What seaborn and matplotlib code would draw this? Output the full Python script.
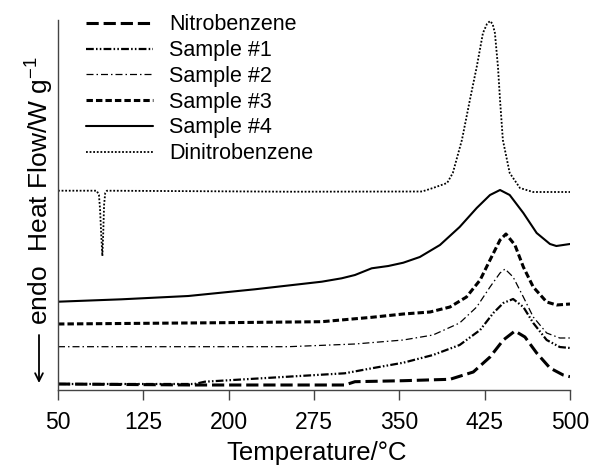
import matplotlib
matplotlib.use("Agg")
import matplotlib.pyplot as plt
import seaborn as sns
import pandas as pd

# ---- data (heat flow in arbitrary offset units) ----
nitro_T = [50, 170, 302, 311, 353.5, 394.5, 415, 429.7, 441.4, 451.6, 460.4, 470.7, 482.4, 494, 500]
nitro_H = [0.6, 0.5, 0.5, 0.83, 0.93, 1.07, 1.8, 3.3, 5.0, 5.9, 5.3, 3.7, 2.2, 1.5, 1.33]

s1_T = [50, 170, 179, 252, 302, 325.7, 353.5, 379.6, 403, 421, 432.6, 441.4, 450, 459, 467.7, 479.5, 491, 500]
s1_H = [0.6, 0.6, 0.83, 1.33, 1.67, 2.17, 2.73, 3.5, 4.5, 6.0, 7.7, 8.7, 9.1, 8.3, 6.7, 5.0, 4.3, 4.2]

s2_T = [50, 252.4, 311, 353.5, 379.6, 403, 418, 429.7, 438.5, 442.9, 450, 459, 467.7, 479.5, 491, 500]
s2_H = [4.33, 4.33, 4.6, 5.0, 5.5, 6.7, 8.3, 10.3, 11.7, 12.1, 11.3, 9.3, 7.3, 5.7, 5.2, 5.2]

s3_T = [50, 194, 281.8, 325.7, 353.5, 377, 394.5, 409, 421, 429.7, 438.5, 443.7, 451.6, 459, 467.7, 479.5, 488.3, 500]
s3_H = [6.6, 6.73, 6.83, 7.27, 7.6, 7.8, 8.3, 9.3, 11.0, 13.0, 15.0, 15.6, 14.5, 12.3, 10.3, 8.8, 8.5, 8.6]

s4_T = [50, 106, 164.5, 223, 281.8, 299.3, 311, 325.7, 340.3, 353.5, 368, 385.7, 403, 418, 429.7, 438.5, 447, 459,
        470.7, 482.4, 488, 500]
s4_H = [8.83, 9.07, 9.4, 10.07, 10.83, 11.17, 11.5, 12.17, 12.4, 12.73, 13.3, 14.5, 16.3, 18.2, 19.5, 20.0, 19.5, 17.7,
        15.7, 14.6, 14.4, 14.6]

dnb_T = [50, 84, 86, 87, 88, 89, 89.7, 90.5, 91.5, 93, 254, 370, 379.6, 392, 397, 405, 412, 418, 423.5, 427, 429.7, 432,
         434, 436.7, 438.5, 441, 447, 456, 467.5, 500]
dnb_H = [19.93, 19.93, 19.5, 18.0, 15.5, 13.4, 15.5, 18.5, 19.7, 19.93, 19.83, 19.85, 20.2, 20.7, 21.7, 25.0, 29.0, 32.3, 35.7, 36.6, 36.9, 36.6,
         35.7, 32.3, 29.0, 25.0, 21.7, 20.2, 19.8, 19.8]

labels = ["Nitrobenzene", "Sample #1", "Sample #2", "Sample #3", "Sample #4", "Dinitrobenzene"]
x_ticks = [50, 125, 200, 275, 350, 425, 500]

series = [
    (nitro_T, nitro_H, dict(lw=2.2, linestyle=(0, (4.0, 1.6)))),
    (s1_T, s1_H, dict(lw=1.6, linestyle=(0, (3.5, 1.0, 0.7, 1.0, 0.7, 1.0)))),
    (s2_T, s2_H, dict(lw=0.9, linestyle=(0, (5.6, 2.4, 1.2, 2.4)))),
    (s3_T, s3_H, dict(lw=2.2, linestyle=(0, (2.1, 1.0)))),
    (s4_T, s4_H, dict(lw=1.5, linestyle="-")),
    (dnb_T, dnb_H, dict(lw=1.3, linestyle=(0, (1.0, 1.0)))),
]

sns.set_theme(style="white")
plt.rcParams["font.family"] = ["Liberation Sans", "DejaVu Sans"]
plt.rcParams["mathtext.fontset"] = "custom"
plt.rcParams["mathtext.rm"] = "Liberation Sans"
plt.rcParams["mathtext.it"] = "Liberation Sans:italic"
plt.rcParams["mathtext.bf"] = "Liberation Sans:bold"
plt.rcParams["text.color"] = "black"
plt.rcParams["axes.labelcolor"] = "black"
plt.rcParams["xtick.color"] = "black"
plt.rcParams["ytick.color"] = "black"

fig = plt.figure(figsize=(5.9, 4.68), dpi=100)
ax = fig.add_axes([58 / 590, 78 / 468, 512 / 590, 370 / 468])

for (T, H, style), lab in zip(series, labels):
    df = pd.DataFrame({"T": T, "H": H})
    sns.lineplot(data=df, x="T", y="H", ax=ax, color="black", label=lab,
                 estimator=None, errorbar=None, sort=False, **style)

ax.set_xlim(50, 500)
ax.set_ylim(0, 37)
ax.set_xticks(x_ticks)
ax.set_xticklabels([str(t) for t in x_ticks])
ax.set_yticks([])
ax.tick_params(axis="x", direction="out", length=7, width=1, color="#444444",
               labelcolor="black", labelsize=16.5, pad=8, bottom=True)
for s in ["top", "right"]:
    ax.spines[s].set_visible(False)
for s in ["left", "bottom"]:
    ax.spines[s].set_color("#444444")
    ax.spines[s].set_linewidth(1)

ax.set_xlabel("Temperature/°C", fontsize=18.5, color="black")
ax.xaxis.set_label_coords((317 - 58) / 512, (390 - 441) / 370)
ax.xaxis.label.set_va("top")
ax.set_ylabel("")

fig.text(40 / 590, 1 - 190.5 / 468, "endo  Heat Flow/W g$^{-1}$", rotation=90,
         ha="center", va="center", fontsize=19, color="black")
ax.annotate("", xy=(39, 468 - 383), xytext=(39, 468 - 335), xycoords="figure pixels",
            textcoords="figure pixels",
            arrowprops=dict(arrowstyle="->", lw=1.3, color="black", mutation_scale=14,
                            shrinkA=0, shrinkB=0))

handles = ax.get_lines()[:6]
leg = ax.legend(handles=handles, labels=labels, loc="upper left",
                bbox_to_anchor=(86 / 590, 1 - 14.5 / 468), bbox_transform=fig.transFigure,
                frameon=False, fontsize=15.5, handlelength=3.1, handletextpad=0.75,
                labelspacing=0.22, borderpad=0, borderaxespad=0)
for t in leg.get_texts():
    t.set_color("black")

fig.savefig("out.png", dpi=100)
